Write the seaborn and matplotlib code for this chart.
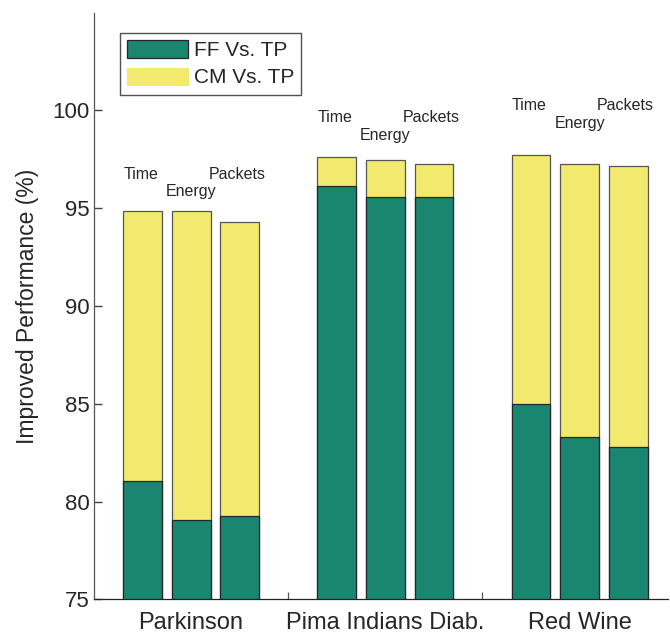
import matplotlib
matplotlib.use("Agg")
import matplotlib.pyplot as plt
import seaborn as sns
import pandas as pd
from matplotlib.patches import Patch

# data
groups = ["Parkinson", "Pima Indians Diab.", "Red Wine"]
metrics = ["Time", "Energy", "Packets"]
ff_vs_tp = [81.06, 79.07, 79.24, 96.13, 95.57, 95.57, 84.97, 83.31, 82.79]
cm_vs_tp = [94.84, 94.85, 94.32, 97.61, 97.46, 97.24, 97.71, 97.27, 97.14]
time_label_y = [96.73, 99.64, 100.23]
energy_label_y = [95.84, 98.74, 99.33]

green = "#1b8670"
yellow = "#f2ea6f"
dark = "#262626"

rows = []
for g, grp in enumerate(groups):
    for m, met in enumerate(metrics):
        i = g * 3 + m
        rows.append({"pos": g * 4 + m + 1, "group": grp, "metric": met,
                     "ff": ff_vs_tp[i], "cm": cm_vs_tp[i]})
df = pd.DataFrame(rows)

sns.set_theme(style="white", rc={"ytick.left": True, "xtick.bottom": True})
plt.rcParams["font.family"] = ["Liberation Sans", "DejaVu Sans"]

fig = plt.figure(figsize=(6.70, 6.37), dpi=100)
ax = fig.add_axes([0.1403, 0.0592, 0.8567, 0.9209])

sns.barplot(data=df, x="pos", y="cm", native_scale=True, width=0.8,
            color=yellow, saturation=1, edgecolor="#555555", linewidth=0.9, ax=ax)
sns.barplot(data=df, x="pos", y="ff", native_scale=True, width=0.8,
            color=green, saturation=1, edgecolor=dark, linewidth=0.9, ax=ax)

ax.set_xlim(0, 11.82)
ax.set_ylim(75, 105)
ax.set_yticks([75, 80, 85, 90, 95, 100])
ax.tick_params(axis="y", direction="in", length=6, width=1.0, color="#444444",
               labelsize=16, labelcolor=dark, pad=3, left=True)

centers = [g * 4 + 2 for g in range(len(groups))]
ax.set_xticks(centers)
ax.set_xticklabels(groups)
ax.set_xticks([4, 8], minor=True)
ax.tick_params(axis="x", which="major", length=0, labelsize=17, labelcolor=dark, pad=9)
ax.tick_params(axis="x", which="minor", direction="in", length=5, width=0.9,
               color="#555555", bottom=True)

ax.set_xlabel("")
ax.set_ylabel("Improved Performance (%)", fontsize=16.5, color=dark, labelpad=10)

sns.despine(ax=ax)
ax.spines["left"].set_color("#555555")
ax.spines["bottom"].set_color("#222222")
for side in ["left", "bottom"]:
    ax.spines[side].set_linewidth(0.9)

# metric labels above each group
for g in range(len(groups)):
    p = g * 4 + 1
    ax.text(p - 0.4, time_label_y[g], "Time", ha="left", va="center",
            fontsize=11.5, color=dark)
    ax.text(p + 1, energy_label_y[g], "Energy", ha="center", va="center",
            fontsize=11.5, color=dark)
    ax.text(p + 1.95, time_label_y[g], "Packets", ha="center", va="center",
            fontsize=11.5, color=dark)

handles = [Patch(facecolor=green, edgecolor=dark, linewidth=0.9, label="FF Vs. TP"),
           Patch(facecolor=yellow, edgecolor=yellow, linewidth=0.9, label="CM Vs. TP")]
leg = ax.legend(handles=handles, loc="upper left", bbox_to_anchor=(0.045, 0.965),
                fontsize=15, frameon=True, fancybox=False, edgecolor=dark,
                handlelength=2.9, handleheight=0.9, handletextpad=0.3,
                labelspacing=0.35, borderpad=0.35, borderaxespad=0)
leg.get_frame().set_linewidth(1.0)
for t in leg.get_texts():
    t.set_color(dark)

fig.savefig("out.png", dpi=100)
